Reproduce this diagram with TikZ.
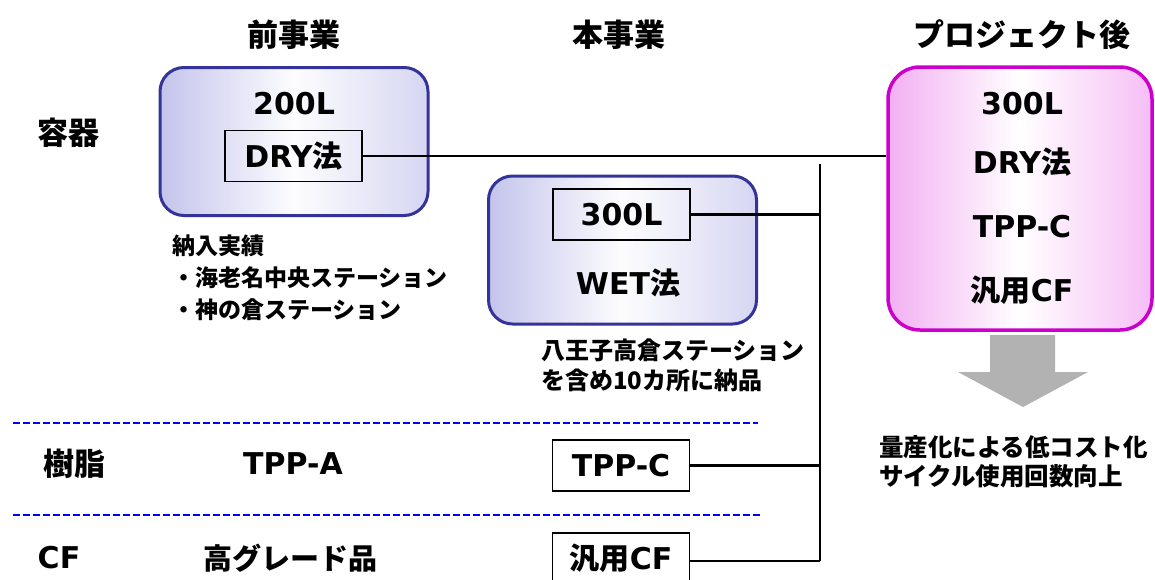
\documentclass[tikz,border=0pt]{standalone}
\usepackage{fontspec}
\setmainfont{Noto Sans CJK JP}
\newfontfamily\dejavu{DejaVu Sans}
\definecolor{cardblue}{RGB}{51,51,153}
\definecolor{cardblueL}{RGB}{196,196,236}
\definecolor{cardblueR}{RGB}{214,214,242}
\definecolor{cardpink}{RGB}{204,0,204}
\definecolor{cardpinkL}{RGB}{242,176,242}
\definecolor{cardpinkR}{RGB}{246,190,246}
\definecolor{arrowgray}{RGB}{178,178,178}
\begin{document}
\begin{tikzpicture}[x=1pt,y=-1pt,
		every node/.style={inner sep=0pt,font=\bfseries},
		head/.style={font=\bfseries\fontsize{31}{31}\selectfont},
		lat/.style={font=\dejavu\bfseries\fontsize{30}{30}\selectfont},
		note/.style={font=\bfseries\fontsize{23}{32}\selectfont,align=left,anchor=west},
		bluecard/.style={draw=cardblue,line width=3pt,rounded corners=24pt,
			left color=cardblueL,right color=cardblueR,middle color=white!96!cardblueL,
			minimum width=268pt,minimum height=148pt},
		pinkcard/.style={draw=cardpink,line width=3.5pt,rounded corners=32pt,
			left color=cardpinkL,right color=cardpinkR,middle color=white,
			minimum width=264pt,minimum height=263pt},
		tag/.style={draw,line width=1.4pt,minimum width=137pt,minimum height=51pt},
		wire/.style={line width=2.2pt},
		rowsep/.style={draw=blue,line width=2pt,dash pattern=on 7pt off 3pt}]
	\useasboundingbox (0,0) rectangle (1155,579);
	\node[head] (hBefore) at (293.5,35) {前事業};
	\node[head] (hNow) at (618.5,35) {本事業};
	\node[head] (hAfter) at (1022,35) {プロジェクト後};
	\node[head] (rTank) at (68.5,133) {容器};
	\node[head] (rResin) at (74,464) {樹脂};
	\node[lat] (rCF) at (59,558) {CF};
	\node[bluecard] (cBefore) at (294,141.5) {};
	\node[lat] (t200) at (294,103.5) {200L};
	\node[tag] (tDry) at (293.5,156) {};
	\node[lat] at (tDry) {DRY{\rmfamily 法}};
	\node[bluecard] (cNow) at (622.5,250) {};
	\node[tag] (tNow300) at (621.5,214.5) {};
	\node[lat] at (tNow300) {300L};
	\node[lat] (tWet) at (628,283) {WET{\rmfamily 法}};
	\node[pinkcard] (cAfter) at (1020,198.5) {};
	\node[lat] (a300) at (1022,104) {300L};
	\node[lat] (aDry) at (1022,162) {DRY{\rmfamily 法}};
	\node[lat] (aTpp) at (1022,227) {TPP-C};
	\node[lat] (aCF) at (1022,290) {{\rmfamily 汎用}CF};
	\node[note] (nBefore) at (172,278) {納入実績\\・海老名中央ステーション\\・神の倉ステーション};
	\node[note,font=\bfseries\fontsize{24}{30}\selectfont] (nNow) at (541,365) {八王子高倉ステーション\\を含め10カ所に納品};
	\node[note,font=\bfseries\fontsize{24.5}{29}\selectfont] (nAfter) at (879,461.5) {量産化による低コスト化\\サイクル使用回数向上};
	\node[lat] (tTppA) at (293,464) {TPP-A};
	\node[tag] (tTppC) at (621,465.5) {};
	\node[lat] at (tTppC) {TPP-C};
	\node[head,font=\bfseries\fontsize{29}{29}\selectfont] (tHigh) at (290,558) {高グレード品};
	\node[tag,minimum height=56pt] (tCF) at (621,561) {};
	\node[lat] at (621,558) {{\rmfamily 汎用}CF};
	\draw[rowsep] (13,423) -- (758,423);
	\draw[rowsep] (13,515) -- (763,515);
	\coordinate (busTop) at (820,164);
	\coordinate (busBot) at (820,561);
	\draw[wire] (tDry.east) -- (tDry.east -| cAfter.west);
	\draw[wire] (busTop) -- (busBot);
	\draw[wire] (tNow300.east) -- (tNow300.east -| busTop);
	\draw[wire] (tTppC.east) -- (tTppC.east -| busTop);
	\draw[wire] (tCF.east) -- (busBot);
	\fill[arrowgray] (990,335) -- (1055,335) -- (1055,372) -- (1088,372) -- (1023,407)
		-- (958,372) -- (990,372) -- cycle;
\end{tikzpicture}
\end{document}
